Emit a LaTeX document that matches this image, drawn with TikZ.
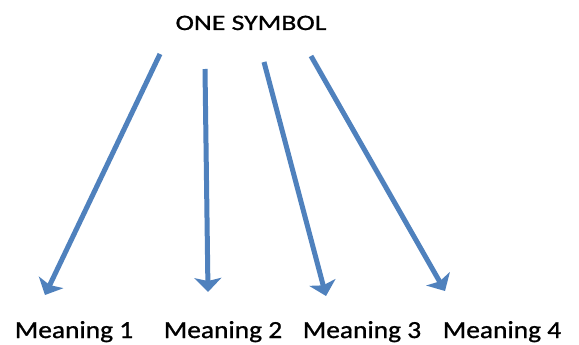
\documentclass[tikz,border=0pt]{standalone}
\usepackage{fontspec}
\setmainfont{Carlito}
\newfontfamily\titlefont[FakeStretch=1.26,FakeBold=1]{Carlito}
\newfontfamily\meanfont[FakeStretch=1.12,FakeBold=1]{Carlito}
\usetikzlibrary{arrows.meta}
\definecolor{officeblue}{RGB}{79,129,189}
\begin{document}
\begin{tikzpicture}[x=1pt,y=-1pt,
  arr/.style={draw=officeblue,line width=5pt,-{Stealth[length=14pt,width=27pt,inset=3pt]}},
  meaning/.style={anchor=base,inner sep=0pt,font=\meanfont\fontsize{24.5}{30}\selectfont},
  title/.style={anchor=base,inner sep=0pt,font=\titlefont\fontsize{22}{26}\selectfont}]
\useasboundingbox[fill=white] (0,0) rectangle (579,345);
\node[title] (t) at (251,30) {ONE SYMBOL};
\node[meaning] (m1) at (74,338) {Meaning 1};
\node[meaning] (m2) at (223,338) {Meaning 2};
\node[meaning] (m3) at (362,338) {Meaning 3};
\node[meaning] (m4) at (502,338) {Meaning 4};
\coordinate (s1) at (160,54);
\coordinate (s2) at (205,69);
\coordinate (s3) at (264,62);
\coordinate (s4) at (311,56);
\coordinate (e1) at (45,295);
\coordinate (e2) at (208,292);
\coordinate (e3) at (326,296);
\coordinate (e4) at (445,291);
\draw[arr] (s1) -- (e1);
\draw[arr] (s2) -- (e2);
\draw[arr] (s3) -- (e3);
\draw[arr] (s4) -- (e4);
\end{tikzpicture}
\end{document}
